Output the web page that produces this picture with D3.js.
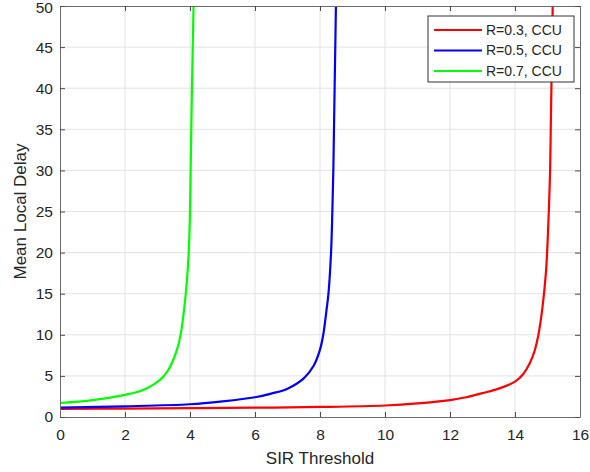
<!DOCTYPE html>
<html>
<head>
<meta charset="utf-8">
<script src="https://cdn.jsdelivr.net/npm/d3@7"></script>
<style>
  body { margin: 0; background: #fff; }
  text { font-family: "Liberation Sans", Arial, sans-serif; fill: #262626; }
</style>
</head>
<body>
<div id="chart"></div>
<script>
// values
let redX = [0, 2, 4, 6, 8, 10, 11, 12, 12.5, 13, 13.5, 14, 14.25, 14.45, 14.6, 14.72, 14.85, 14.95, 15.0, 15.04, 15.08, 15.1, 15.12, 15.16];
let redY = [1.0, 1.03, 1.07, 1.13, 1.22, 1.4, 1.65, 2.05, 2.4, 2.9, 3.45, 4.3, 5.2, 6.5, 8.0, 10, 13.5, 17.5, 21, 25, 30, 35, 40, 50];
let blueX = [0, 2, 4, 5, 6, 6.5, 7, 7.5, 7.8, 8.0, 8.1, 8.2, 8.26, 8.34, 8.38, 8.41, 8.43, 8.45, 8.49];
let blueY = [1.15, 1.3, 1.55, 1.9, 2.4, 2.85, 3.45, 4.7, 6.2, 8.2, 10, 13, 15, 20, 25, 30, 35, 40, 50];
let greenX = [0, 1, 2, 2.5, 2.9, 3.2, 3.4, 3.6, 3.72, 3.87, 3.96, 4.0, 4.02, 4.04, 4.06, 4.11];
let greenY = [1.7, 2.05, 2.7, 3.2, 4.0, 5.0, 6.2, 8.2, 10.2, 15, 20, 25, 30, 35, 40, 50];
let seriesNames = ["R=0.3, CCU", "R=0.5, CCU", "R=0.7, CCU"];
let seriesColours = ["#ff0000", "#0000ff", "#00ff00"];
let xTicks = [0, 2, 4, 6, 8, 10, 12, 14, 16];
let yTicks = [0, 5, 10, 15, 20, 25, 30, 35, 40, 45, 50];

function graph(id) {
	let width = 590, height = 472;
	let left = 60, right = 580, top = 6, bottom = 417;

	let svg = d3.select(id).append("svg")
		.attr("width", width)
		.attr("height", height);

	let x = d3.scaleLinear().domain([0, 16]).range([left, right]);
	let y = d3.scaleLinear().domain([0, 50]).range([bottom, top]);

	// grid
	svg.append("g").selectAll("line").data(xTicks.slice(1, -1)).enter()
		.append("line")
		.attr("x1", d => x(d)).attr("x2", d => x(d))
		.attr("y1", top).attr("y2", bottom)
		.attr("stroke", "#e3e3e3").attr("stroke-width", 1);
	svg.append("g").selectAll("line").data(yTicks.slice(1, -1)).enter()
		.append("line")
		.attr("y1", d => y(d)).attr("y2", d => y(d))
		.attr("x1", left).attr("x2", right)
		.attr("stroke", "#e3e3e3").attr("stroke-width", 1);

	// curves
	let data = [
		redX.map((v, i) => [v, redY[i]]),
		blueX.map((v, i) => [v, blueY[i]]),
		greenX.map((v, i) => [v, greenY[i]])
	];
	svg.append("clipPath").attr("id", "clip")
		.append("rect").attr("x", left).attr("y", top)
		.attr("width", right - left).attr("height", bottom - top);
	let line = d3.line()
		.x(d => x(d[0]))
		.y(d => y(d[1]))
		.curve(d3.curveCatmullRom.alpha(0.5));
	svg.append("g").attr("clip-path", "url(#clip)")
		.selectAll("path").data(data).enter()
		.append("path")
		.attr("d", line)
		.attr("fill", "none")
		.attr("stroke", (d, i) => seriesColours[i])
		.attr("stroke-width", 2.2);

	// axes, ticks inward on all sides
	let tickLen = 5;
	let xAxisB = d3.axisBottom(x).tickValues(xTicks).tickSizeInner(-tickLen).tickSizeOuter(0).tickPadding(12);
	let xAxisT = d3.axisTop(x).tickValues(xTicks).tickSizeInner(-tickLen).tickSizeOuter(0).tickFormat("");
	let yAxisL = d3.axisLeft(y).tickValues(yTicks).tickSizeInner(-tickLen).tickSizeOuter(0).tickPadding(7);
	let yAxisR = d3.axisRight(y).tickValues(yTicks).tickSizeInner(-tickLen).tickSizeOuter(0).tickFormat("");

	let axes = [
		svg.append("g").attr("transform", `translate(0,${bottom})`).call(xAxisB),
		svg.append("g").attr("transform", `translate(0,${top})`).call(xAxisT),
		svg.append("g").attr("transform", `translate(${left},0)`).call(yAxisL),
		svg.append("g").attr("transform", `translate(${right},0)`).call(yAxisR)
	];
	axes.forEach(g => {
		g.select(".domain").attr("stroke", "#6b6b6b").attr("stroke-width", 1);
		g.selectAll(".tick line").attr("stroke", "#4a4a4a");
		g.selectAll("text").style("font-size", "15.5px").attr("fill", "#262626");
	});
	// keep the top label inside the window
	axes[2].selectAll(".tick").filter(d => d === 50).select("text").attr("dy", "0.40em");

	// axis labels
	svg.append("text")
		.attr("x", (left + right) / 2).attr("y", 464)
		.attr("text-anchor", "middle")
		.style("font-size", "17px")
		.text("SIR Threshold");
	svg.append("text")
		.attr("transform", `translate(26,${(top + bottom) / 2}) rotate(-90)`)
		.attr("text-anchor", "middle")
		.style("font-size", "17px")
		.text("Mean Local Delay");

	// legend
	let legend = svg.append("g").attr("transform", "translate(428,16)");
	legend.append("rect")
		.attr("width", 146).attr("height", 66)
		.attr("fill", "#fff").attr("stroke", "#333").attr("stroke-width", 1);
	let items = legend.selectAll("g.item").data(seriesNames).enter()
		.append("g")
		.attr("transform", (d, i) => `translate(0,${14 + i * 20.5})`);
	items.append("line")
		.attr("x1", 6).attr("x2", 54)
		.attr("stroke", (d, i) => seriesColours[i])
		.attr("stroke-width", 2.2);
	items.append("text")
		.attr("x", 58).attr("dy", "0.35em")
		.style("font-size", "14px")
		.text(d => d);
}

graph("#chart");
</script>
</body>
</html>
